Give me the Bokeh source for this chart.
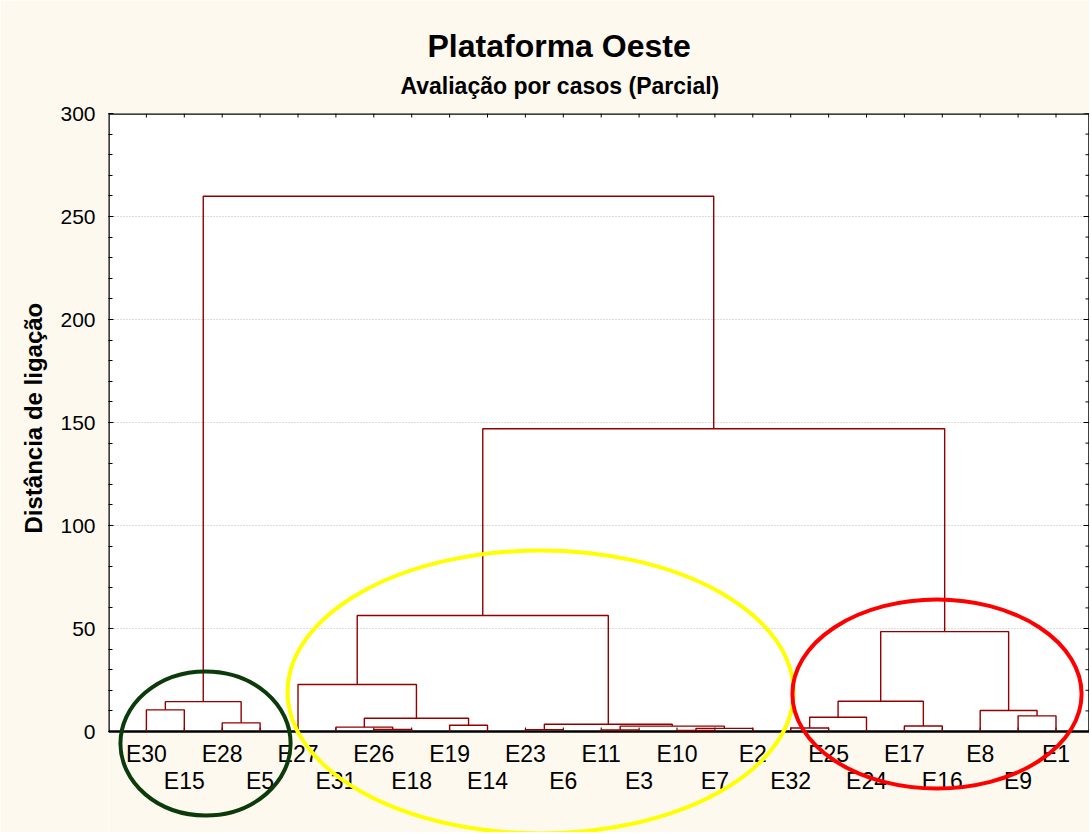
import math
from bokeh.plotting import figure
from bokeh.models import Range1d, FixedTicker, Title, BoxAnnotation, ColumnDataSource
from bokeh.core.properties import value
from bokeh.embed import file_html
from bokeh.resources import INLINE

# ---------------- data ----------------
leaves = ["E30", "E15", "E28", "E5", "E27", "E31", "E26", "E18", "E19", "E14",
          "E23", "E6", "E11", "E3", "E10", "E7", "E2", "E32", "E25", "E24",
          "E17", "E16", "E8", "E9", "E1"]
# linkage: node ids 0..24 are leaves, merge k creates node 25+k
merge_left = [0, 2, 25, 6, 5, 8, 29, 4, 10, 12, 14, 35, 34, 33, 32, 17, 40, 20, 41, 23, 22, 43, 39, 27]
merge_right = [1, 3, 26, 7, 28, 9, 30, 31, 11, 13, 15, 16, 36, 37, 38, 18, 19, 21, 42, 24, 44, 45, 46, 47]
merge_height = [10.5, 4.2, 14.5, 1.0, 2.1, 3.0, 6.4, 22.8, 0.9, 0.7, 0.5, 1.5, 2.6, 3.5, 56.3,
                1.7, 6.9, 2.7, 14.7, 7.6, 10.2, 48.5, 147.0, 259.8]
y_ticks = [0, 50, 100, 150, 200, 250, 300]
y_minor = list(range(0, 301, 10))

title_text = "Plataforma Oeste"
subtitle_text = "Avaliação por casos (Parcial)"
y_label_text = "Distância de ligação"

# highlight ellipses (center x, center y, width, height, colour) in data units
groups_cx = [2.56, 11.40, 21.86]
groups_cy = [-5.8, 19.2, 18.2]
groups_w = [4.49, 13.35, 7.63]
groups_h = [69.9, 137.4, 91.7]
groups_color = ["#0B3B0B", "#FFFF00", "#FF0000"]

# ---------------- build dendrogram ----------------
n = len(leaves)
pos = {i: i + 1 for i in range(n)}
hgt = {i: 0.0 for i in range(n)}
xs, ys = [], []
for k, (l, r, h) in enumerate(zip(merge_left, merge_right, merge_height)):
    xs.append([pos[l], pos[l], pos[r], pos[r]])
    ys.append([hgt[l], h, h, hgt[r]])
    pos[n + k] = (pos[l] + pos[r]) / 2.0
    hgt[n + k] = h
leaf_x = [pos[i] for i in range(n)]

cream = "#FDF9EF"
FONT = "Liberation Sans"

PX_X = 37.9   # pixels per x unit
PX_Y = 2.06   # pixels per y unit
x_end = 981 / PX_X
y_start = 300 - 719 / PX_Y

p = figure(width=1089, height=832,
           x_range=Range1d(0, x_end), y_range=Range1d(y_start, 300),
           output_backend="svg", toolbar_location=None,
           x_axis_location=None,
           min_border_left=108, min_border_right=0, min_border_top=113, min_border_bottom=0,
           background_fill_color="white", border_fill_color=cream,
           outline_line_color=None)

# titles
p.add_layout(Title(text=subtitle_text, text_font=FONT, text_font_size="23px", text_font_style="bold",
                   align="left", offset=292, text_color="black", standoff=30), "above")
p.add_layout(Title(text=title_text, text_font=FONT, text_font_size="32px", text_font_style="bold",
                   align="left", offset=319, text_color="black", standoff=-16), "above")
p.add_layout(Title(text=y_label_text, text_font=FONT, text_font_size="24px", text_font_style="bold",
                   align="left", offset=299, text_color="black", standoff=22), "left")

# left axis
ya = p.yaxis[0]
ya.ticker = FixedTicker(ticks=y_ticks, minor_ticks=y_minor)
ya.axis_line_color = None
ya.major_tick_in = 5
ya.major_tick_out = 0
ya.minor_tick_in = 4
ya.minor_tick_out = 0
ya.major_tick_line_color = "black"
ya.minor_tick_line_color = "black"
ya.major_label_text_font = FONT
ya.major_label_text_font_size = "21px"
ya.major_label_text_color = "black"
ya.major_label_standoff = 13

p.xgrid.visible = False
p.ygrid.ticker = FixedTicker(ticks=y_ticks)
p.ygrid.grid_line_color = "#B8B8B8"
p.ygrid.grid_line_dash = "1 2"
p.ygrid.grid_line_width = 1

# cream area below the zero line
p.add_layout(BoxAnnotation(top=0, fill_color=cream, fill_alpha=1, line_color=None, level="underlay"))

# frame lines: left, right, top (0..300) and the zero line
p.segment(x0=[0, x_end, 0, 0], y0=[0, 0, 300, 0], x1=[0, x_end, x_end, x_end], y1=[300, 300, 300, 0],
          line_color="black", line_width=2.5)
# tick marks at the leaves (bottom and top), pointing inward
tick_y = 4 / PX_Y
p.segment(x0=leaf_x, y0=[0] * n, x1=leaf_x, y1=[tick_y] * n, line_color="black", line_width=1)
p.segment(x0=leaf_x, y0=[300] * n, x1=leaf_x, y1=[300 - tick_y] * n, line_color="black", line_width=1)
# right-hand ticks
p.segment(x0=[x_end - 4 / PX_X] * len(y_minor), y0=y_minor, x1=[x_end] * len(y_minor), y1=y_minor,
          line_color="black", line_width=1)
p.segment(x0=[x_end - 6 / PX_X] * len(y_ticks), y0=y_ticks, x1=[x_end] * len(y_ticks), y1=y_ticks,
          line_color="black", line_width=1)

# dendrogram
p.multi_line(xs=xs, ys=ys, line_color="#930000", line_width=1.4)

# leaf labels, alternating rows
top_row = ColumnDataSource(dict(x=leaf_x[0::2], y=[-10.7] * len(leaf_x[0::2]), t=leaves[0::2]))
bot_row = ColumnDataSource(dict(x=leaf_x[1::2], y=[-23.8] * len(leaf_x[1::2]), t=leaves[1::2]))
for src in (top_row, bot_row):
    p.text(x="x", y="y", text="t", source=src, text_font=value(FONT), text_font_size="23px",
           text_align="center", text_baseline="middle", text_color="black")

# highlight ellipses
p.ellipse(x=groups_cx, y=groups_cy, width=groups_w, height=groups_h,
          fill_color=None, line_color=groups_color, line_width=4)

open("out.html", "w").write(file_html(p, INLINE))
